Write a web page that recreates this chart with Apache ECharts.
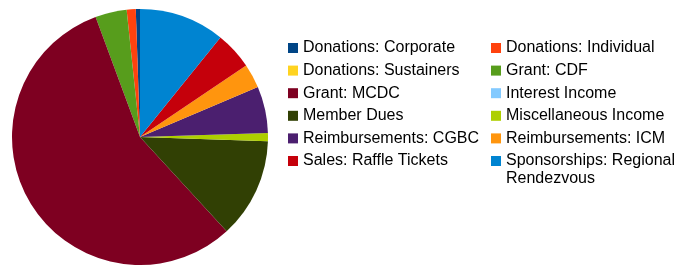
<!DOCTYPE html>
<html>
<head>
<meta charset="utf-8">
<script src="https://cdn.jsdelivr.net/npm/echarts@6/dist/echarts.min.js"></script>
<style>
  html, body { margin: 0; padding: 0; background: #fff; }
  #chart { width: 692px; height: 265px; }
</style>
</head>
<body>
<div id="chart"></div>
<script>
// income categories, in the order the slices go (counter-clockwise from 12 o'clock)
const names = [
  'Donations: Corporate',
  'Donations: Individual',
  'Donations: Sustainers',
  'Grant: CDF',
  'Grant: MCDC',
  'Interest Income',
  'Member Dues',
  'Miscellaneous Income',
  'Reimbursements: CGBC',
  'Reimbursements: ICM',
  'Sales: Raffle Tickets',
  'Sponsorships: Regional Rendezvous'
]
const values = [190, 410, 0, 1430, 20230, 0, 4550, 370, 2120, 1100, 1710, 3890]
const colors = [
  '#004586', '#ff420e', '#ffd320', '#579d1c', '#7e0021', '#83caff',
  '#314004', '#aecf00', '#4b1f6f', '#ff950e', '#c5000b', '#0084d1'
]

// legend columns (left: even items, right: odd items)
const leftCol = names.filter((n, i) => i % 2 === 0)
const rightCol = names.filter((n, i) => i % 2 === 1)
const longName = 'Sponsorships: Regional Rendezvous'

const font = { fontFamily: 'Liberation Sans', fontSize: 16, color: '#000', lineHeight: 20 }
const rowTop = 38
const rowStep = 22.6

function legendCol(left, top, list) {
  return {
    orient: 'vertical',
    left: left,
    top: top,
    padding: 0,
    itemGap: rowStep - 20,
    itemWidth: 10,
    itemHeight: 10,
    icon: 'rect',
    selectedMode: false,
    textStyle: font,
    // the long label wraps, second line is drawn as a graphic below
    formatter: name => name === longName ? 'Sponsorships: Regional' : name,
    data: list
  }
}

const chart = echarts.init(document.getElementById('chart'))
chart.setOption({
  animation: false,
  legend: [
    legendCol(288, rowTop, leftCol),
    legendCol(491, rowTop, rightCol.filter(n => n !== longName)),
    legendCol(491, rowTop + 5 * rowStep, [longName])
  ],
  graphic: [{
    type: 'text',
    left: 506,
    top: rowTop + 6 * rowStep - 10 + 7,
    style: {
      text: 'Rendezvous',
      fontFamily: 'Liberation Sans',
      fontSize: 16,
      fill: '#000'
    }
  }],
  series: [{
    type: 'pie',
    center: [140, 137],
    radius: 128,
    startAngle: 90,
    clockwise: false,
    label: { show: false },
    labelLine: { show: false },
    emphasis: { disabled: true },
    itemStyle: { borderWidth: 0 },
    data: names.map((n, i) => ({
      name: n,
      value: values[i],
      itemStyle: { color: colors[i] }
    }))
  }]
})
</script>
</body>
</html>
